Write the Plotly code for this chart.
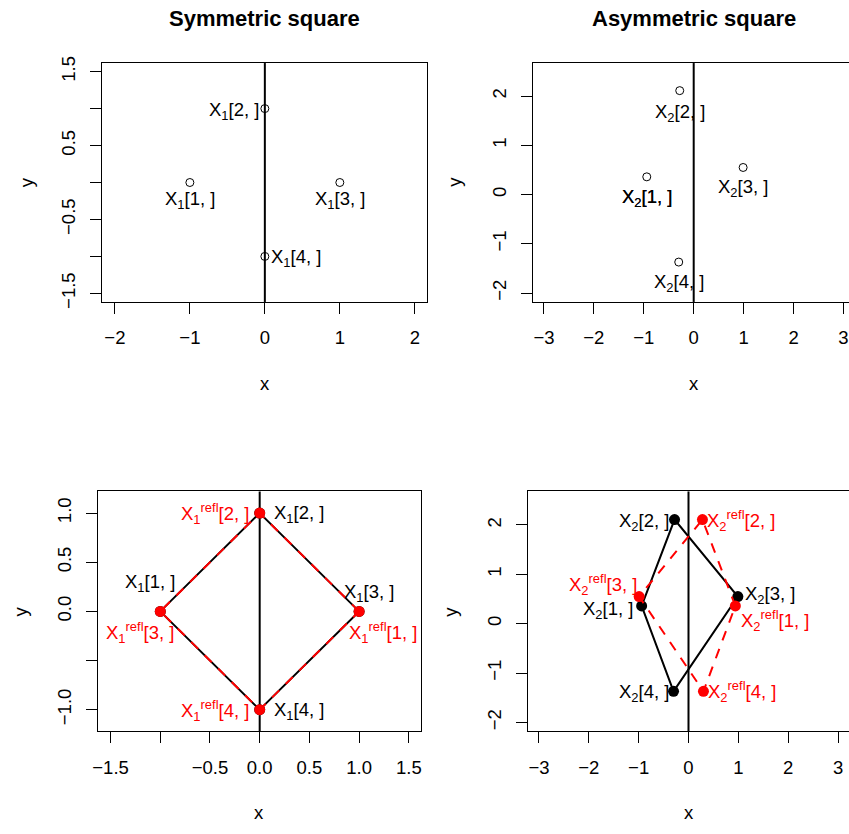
import plotly.graph_objects as go

# ---------------- data ----------------
row_ids = [1, 2, 3, 4]
x1_x = [-1, 0, 1, 0]
x1_y = [0, 1, 0, -1]
x1refl_x = [1, 0, -1, 0]
x1refl_y = [0, 1, 0, -1]
x2_x = [-0.94, -0.28, 0.99, -0.30]
x2_y = [0.36, 2.11, 0.55, -1.37]
x2refl_x = [0.94, 0.28, -0.99, 0.30]
x2refl_y = [0.36, 2.11, 0.55, -1.37]

titles = ["Symmetric square", "Asymmetric square"]

p1_xticks = [-2, -1, 0, 1, 2]
p1_xticklabels = ["\u22122", "\u22121", "0", "1", "2"]
p1_yticks = [-1.5, -1, -0.5, 0, 0.5, 1, 1.5]
p1_yticklabels = ["\u22121.5", "", "\u22120.5", "", "0.5", "", "1.5"]

p2_xticks = [-3, -2, -1, 0, 1, 2, 3]
p2_xticklabels = ["\u22123", "\u22122", "\u22121", "0", "1", "2", "3"]
p2_yticks = [-2, -1, 0, 1, 2]
p2_yticklabels = ["\u22122", "\u22121", "0", "1", "2"]

p3_xticks = [-1.5, -1, -0.5, 0, 0.5, 1, 1.5]
p3_xticklabels = ["\u22121.5", "", "\u22120.5", "0.0", "0.5", "1.0", "1.5"]
p3_yticks = [-1, -0.5, 0, 0.5, 1]
p3_yticklabels = ["\u22121.0", "", "0.0", "0.5", "1.0"]

p4_xticks = p2_xticks
p4_xticklabels = p2_xticklabels
p4_yticks = p2_yticks
p4_yticklabels = p2_yticklabels

# ---------------- layout geometry (pixels) ----------------
W, H = 849, 834
FONT = "Liberation Sans, Arial, Helvetica, sans-serif"
FS = 18.5
RED = "#FF0000"


def xd(a, b):
    return [a / W, min(b / W, 1.0)]


def yd(top, bottom):
    return [1 - bottom / H, 1 - top / H]


panels = [
    dict(xdom=xd(97, 424), ydom=yd(57, 300), xr=[-2.168, 2.163], yr=[-1.616, 1.616],
         xt=(p1_xticks, p1_xticklabels), yt=(p1_yticks, p1_yticklabels), ymirror=True),
    dict(xdom=xd(530.7, 849), ydom=yd(57, 300), xr=[-3.22, 3.111], yr=[-2.18, 2.67],
         xt=(p2_xticks, p2_xticklabels), yt=(p2_yticks, p2_yticklabels), ymirror=False),
    dict(xdom=xd(92.7, 418.3), ydom=yd(492.7, 736.7), xr=[-1.626, 1.626], yr=[-1.22, 1.22],
         xt=(p3_xticks, p3_xticklabels), yt=(p3_yticks, p3_yticklabels), ymirror=True),
    dict(xdom=xd(525.7, 849), ydom=yd(492.7, 736.7), xr=[-3.22, 3.22], yr=[-2.18, 2.68],
         xt=(p4_xticks, p4_xticklabels), yt=(p4_yticks, p4_yticklabels), ymirror=False),
]

fig = go.Figure()
layout = dict(width=W, height=H, margin=dict(l=0, r=0, t=0, b=0),
              paper_bgcolor="white", plot_bgcolor="white", showlegend=False,
              font=dict(family=FONT, size=FS, color="black"))

for i, p in enumerate(panels):
    n = "" if i == 0 else str(i + 1)
    layout["xaxis" + n] = dict(
        domain=p["xdom"], range=p["xr"], anchor="y" + n, showgrid=False, zeroline=False,
        showline=True, linecolor="black", linewidth=1, mirror=True,
        ticks="outside", ticklen=11, tickwidth=1, tickcolor="black",
        tickmode="array", tickvals=p["xt"][0], ticktext=p["xt"][1],
        tickfont=dict(size=FS), ticklabelstandoff=8, fixedrange=True)
    layout["yaxis" + n] = dict(
        domain=p["ydom"], range=p["yr"], anchor="x" + n, showgrid=False, zeroline=False,
        showline=True, linecolor="black", linewidth=1, mirror=p["ymirror"],
        ticks="outside", ticklen=11, tickwidth=1, tickcolor="black",
        tickmode="array", tickvals=p["yt"][0], ticktext=p["yt"][1],
        tickangle=-90, tickfont=dict(size=FS), ticklabelstandoff=8, fixedrange=True)

fig.update_layout(**layout)

# ---------------- traces ----------------
fig.add_trace(go.Scatter(x=x1_x, y=x1_y, mode="markers", xaxis="x", yaxis="y",
                         marker=dict(symbol="circle-open", size=8, color="black",
                                     line=dict(width=1, color="black"))))
fig.add_trace(go.Scatter(x=x2_x, y=x2_y, mode="markers", xaxis="x2", yaxis="y2",
                         marker=dict(symbol="circle-open", size=8, color="black",
                                     line=dict(width=1, color="black"))))


def closed(v):
    return list(v) + [v[0]]


fig.add_trace(go.Scatter(x=closed(x1_x), y=closed(x1_y), mode="lines", xaxis="x3", yaxis="y3",
                         line=dict(color="black", width=2)))
fig.add_trace(go.Scatter(x=x1_x, y=x1_y, mode="markers", xaxis="x3", yaxis="y3",
                         marker=dict(symbol="circle", size=11, color="black")))
fig.add_trace(go.Scatter(x=closed(x1refl_x), y=closed(x1refl_y), mode="lines", xaxis="x3", yaxis="y3",
                         line=dict(color=RED, width=2, dash="10px,9px")))
fig.add_trace(go.Scatter(x=x1refl_x, y=x1refl_y, mode="markers", xaxis="x3", yaxis="y3",
                         marker=dict(symbol="circle", size=11, color=RED)))
fig.add_trace(go.Scatter(x=closed(x2_x), y=closed(x2_y), mode="lines", xaxis="x4", yaxis="y4",
                         line=dict(color="black", width=2)))
fig.add_trace(go.Scatter(x=x2_x, y=x2_y, mode="markers", xaxis="x4", yaxis="y4",
                         marker=dict(symbol="circle", size=11, color="black")))
fig.add_trace(go.Scatter(x=closed(x2refl_x), y=closed(x2refl_y), mode="lines", xaxis="x4", yaxis="y4",
                         line=dict(color=RED, width=2, dash="10px,9px")))
fig.add_trace(go.Scatter(x=x2refl_x, y=x2refl_y, mode="markers", xaxis="x4", yaxis="y4",
                         marker=dict(symbol="circle", size=11, color=RED)))

shapes = []
for n in ["", "2", "3", "4"]:
    shapes.append(dict(type="line", xref="x" + n, yref="y" + n + " domain", x0=0, x1=0, y0=0, y1=1,
                       line=dict(color="black", width=2), layer="below"))
fig.update_layout(shapes=shapes)

# ---------------- point labels ----------------
annotations = []


def lab(text, x, y, axis, anchor, dx, dy, color="black", times=1):
    for _ in range(times):
        annotations.append(dict(text=text, x=x, y=y, xref="x" + axis, yref="y" + axis,
                                xanchor=anchor, yanchor="middle", xshift=dx, yshift=-dy,
                                showarrow=False, borderpad=0,
                                font=dict(family=FONT, size=FS, color=color)))


def name(k, i, refl=False):
    sup = "<sup>refl</sup>" if refl else ""
    return "X<sub>%d</sub>%s[%d, ]" % (k, sup, i)


st1 = [("center", 0, 17), ("right", -4.5, 2), ("center", 0, 17), ("left", 5, 2)]
st2 = [("center", 0, 21, 2), ("center", 0, 22, 1), ("center", 0, 21, 1), ("center", 0, 21, 1)]
st3b = [("center", -10.7, -28.5), ("left", 13.6, 1), ("center", 9.4, -18.5), ("left", 13.6, 1)]
st3r = [("left", -11.6, 21), ("right", -10, 0), ("center", -20.5, 21), ("right", -10, 0.5)]
st4b = [("right", -7.4, 4), ("right", -5, 2), ("left", 6.3, -1.5), ("right", -4, 2)]
st4r = [("left", 4.8, 14.6), ("left", 3.6, 0.5), ("right", -1.6, -11.6), ("left", 3.8, 0.3)]

for j, i in enumerate(row_ids):
    a, dx, dy = st1[j]
    lab(name(1, i), x1_x[j], x1_y[j], "", a, dx, dy)
    a, dx, dy, times = st2[j]
    lab(name(2, i), x2_x[j], x2_y[j], "2", a, dx, dy, times=times)
    a, dx, dy = st3b[j]
    lab(name(1, i), x1_x[j], x1_y[j], "3", a, dx, dy)
    a, dx, dy = st3r[j]
    lab(name(1, i, True), x1refl_x[j], x1refl_y[j], "3", a, dx, dy, RED)
    a, dx, dy = st4b[j]
    lab(name(2, i), x2_x[j], x2_y[j], "4", a, dx, dy)
    a, dx, dy = st4r[j]
    lab(name(2, i, True), x2refl_x[j], x2refl_y[j], "4", a, dx, dy, RED)

for t, cx in zip(titles, [260.5, 692.5]):
    annotations.append(dict(text="<b>%s</b>" % t, x=cx / W, y=1 - 12 / H, xref="paper", yref="paper",
                            xanchor="center", yanchor="middle", showarrow=False,
                            font=dict(family=FONT, size=22, color="black")))

for cx, cy in [(260.7, 383.3), (693.3, 383.3), (255.3, 819.3), (687.7, 819.3)]:
    annotations.append(dict(text="x", x=cx / W, y=1 - cy / H, xref="paper", yref="paper",
                            xanchor="center", yanchor="middle", showarrow=False,
                            font=dict(family=FONT, size=FS, color="black")))
for cx, cy in [(20, 178.3), (451.7, 178.3), (15, 615), (448.3, 615)]:
    annotations.append(dict(text="y", x=cx / W, y=1 - cy / H, xref="paper", yref="paper",
                            xanchor="center", yanchor="middle", textangle=-90, showarrow=False,
                            font=dict(family=FONT, size=FS, color="black")))

fig.update_layout(annotations=annotations)
fig.write_html("out.html", config={"displayModeBar": False},
               post_script="document.body.style.margin='0';document.body.style.overflow='hidden';")
